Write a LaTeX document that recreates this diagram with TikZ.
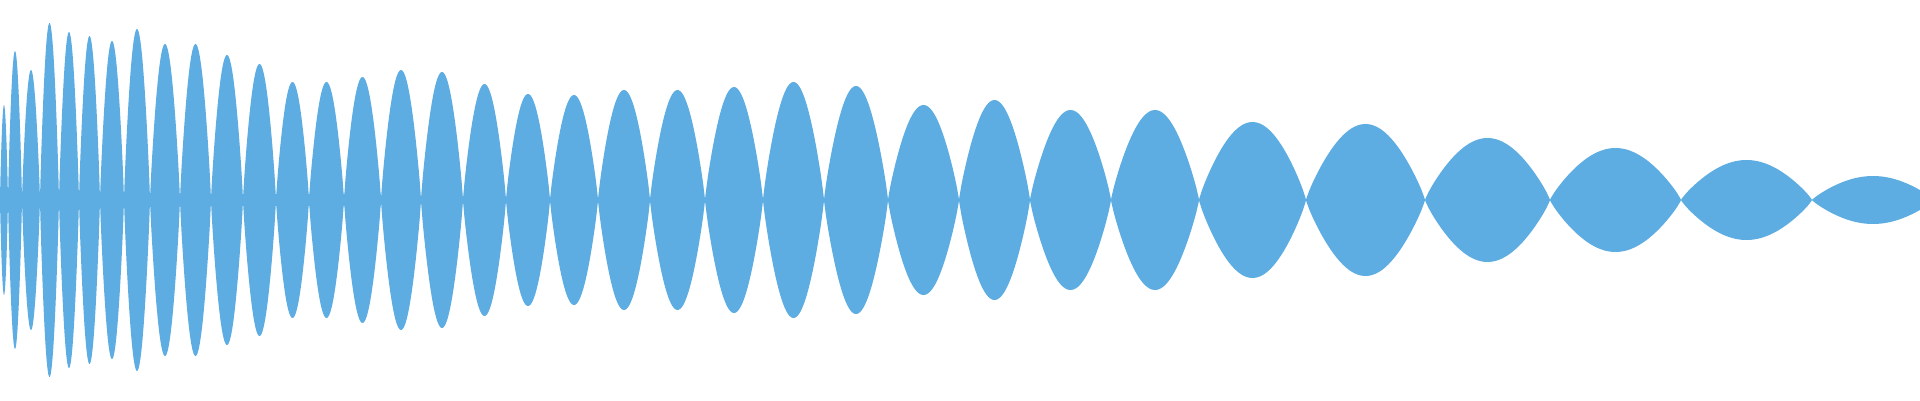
\documentclass[tikz,border=0pt]{standalone}
\definecolor{wavecol}{RGB}{93,173,226}
\begin{document}
\begin{tikzpicture}[x=1pt,y=1pt,wave/.style={fill=wavecol}]
\useasboundingbox (0,0) rectangle (1920,400);
\begin{scope}
\clip (0,0) rectangle (1920,400);
\fill[wave] (0,194) rectangle (381,206);
\foreach \a/\b/\h in {0/8/95, 8/22/149, 22/40/130, 40/59/177, 59/79/168, 79/100/164, 100/124/159, 124/150/171, 150/180/156, 180/211/156, 211/243/145, 243/276/136, 276/309/118, 309/344/118, 344/381/123, 381/421/130, 421/463/128, 463/506/116, 506/550/106, 550/598/105, 598/650/110, 650/705/110, 705/763/113, 763/824/118, 824/888/114, 888/959/95, 959/1030/100, 1030/1111/90, 1111/1199/90, 1199/1306/78, 1306/1425/76, 1425/1550/62, 1550/1681/52, 1681/1812/40, 1812/1934/24}{
  \fill[wave] (\a,200) -- plot[domain=1:179,samples=40] ({\a+\x/180*(\b-\a)},{200+\h*pow(sin(\x),0.85)})
    -- (\b,200) -- plot[domain=179:1,samples=40] ({\a+\x/180*(\b-\a)},{200-\h*pow(sin(\x),0.85)}) -- cycle;
}
\end{scope}
\end{tikzpicture}
\end{document}
